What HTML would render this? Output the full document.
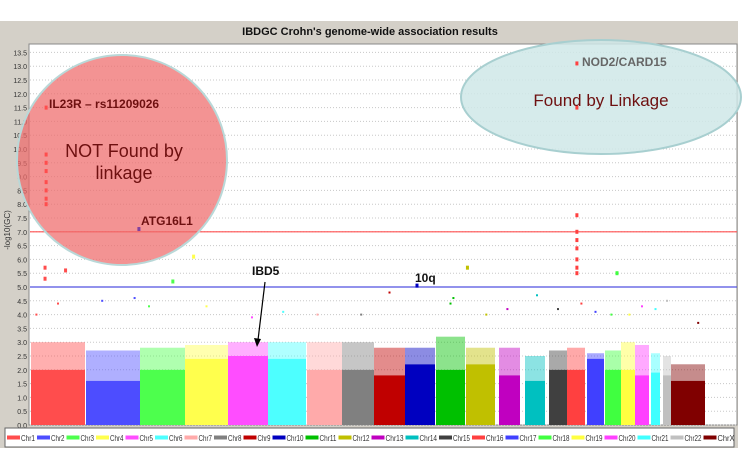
<!DOCTYPE html>
<html><head><meta charset="utf-8"><style>
body{margin:0;width:742px;height:469px;overflow:hidden;background:#fff;font-family:"Liberation Sans",sans-serif}
svg{display:block}
</style></head><body>
<svg id="c" width="742" height="469" xmlns="http://www.w3.org/2000/svg">
<rect x="0" y="21" width="738" height="427" fill="#d4d0c8"/>
<text x="370" y="35" text-anchor="middle" font-size="11" font-weight="bold" fill="#111">IBDGC Crohn's genome-wide association results</text>
<rect x="29" y="44" width="708" height="381" fill="#fff" stroke="#888"/>
<g id="grid"></g><g id="yt"></g>
<text transform="translate(10,230) rotate(-90)" text-anchor="middle" font-size="8" fill="#333">-log10(GC)</text>
<g id="bodies"></g><g id="lines"></g>
<circle cx="122" cy="160" r="105" fill="#ee6a6a" fill-opacity="0.72" stroke="#b9d8d8" stroke-width="2"/>
<ellipse cx="601" cy="97" rx="140" ry="57" fill="#cfe8e8" fill-opacity="0.85" stroke="#a8cfd0" stroke-width="2"/>
<g id="pts"></g>
<text x="49" y="108" font-size="12" font-weight="bold" fill="#6e1010">IL23R – rs11209026</text>
<text x="124" y="157" text-anchor="middle" font-size="18" fill="#6e1010">NOT Found by</text>
<text x="124" y="179" text-anchor="middle" font-size="18" fill="#6e1010">linkage</text>
<text x="141" y="225" font-size="12" font-weight="bold" fill="#6e1010">ATG16L1</text>
<text x="252" y="275" font-size="12" font-weight="bold" fill="#111">IBD5</text>
<line x1="265" y1="282" x2="258" y2="340" stroke="#000" stroke-width="1.2"/>
<polygon points="257,347 254,338 261,339" fill="#000"/>
<text x="415" y="282" font-size="12" font-weight="bold" fill="#111">10q</text>
<text x="582" y="66" font-size="12" font-weight="bold" fill="#666">NOD2/CARD15</text>
<text x="601" y="106" text-anchor="middle" font-size="17" fill="#6e1010">Found by Linkage</text>
<rect x="5" y="428" width="729" height="19" fill="#fff" stroke="#666"/>
<g id="leg"></g>
</svg>
<script>
const chrNames=["Chr1","Chr2","Chr3","Chr4","Chr5","Chr6","Chr7","Chr8","Chr9","Chr10","Chr11","Chr12","Chr13","Chr14","Chr15","Chr16","Chr17","Chr18","Chr19","Chr20","Chr21","Chr22","ChrX"];
const chrColors=["#ff4d4d","#4d4dff","#4dff4d","#ffff4d","#ff4dff","#4dffff","#ffaaaa","#808080","#c00000","#0000c0","#00c000","#c0c000","#c000c0","#00c0c0","#404040","#ff4040","#4040ff","#40ff40","#ffff40","#ff40ff","#40ffff","#c0c0c0","#800000"];
const chrStart=[0,55,109,154,197,237,276,311,343,374,405,435,468,494,518,536,556,574,590,604,620,632,640];
const chrEnd=[54,109,154,197,237,275,311,343,374,404,434,464,489,514,536,554,573,590,604,618,629,640,674];
const bodyLow=[2.0,1.6,2.0,2.4,2.5,2.4,2.0,2.0,1.8,2.2,2.0,2.2,1.8,1.6,2.0,2.0,2.4,2.0,2.0,1.8,1.9,1.8,1.6];
const bodyHigh=[3.0,2.7,2.8,2.9,3.0,3.0,3.0,3.0,2.8,2.8,3.2,2.8,2.8,2.5,2.7,2.8,2.6,2.7,3.0,2.9,2.6,2.5,2.2];
const peakChr=[0,0,0,0,0,0,0,0,0,0,0,1,2,3,9,11,15,15,15,15,15,15,15,15,15,17,0,0,1,1,2,3,4,5,6,7,8,10,10,11,12,13,14,15,16,17,18,19,20,21,22];
const peakPos=[0.28,0.28,0.28,0.28,0.28,0.28,0.28,0.28,0.26,0.26,0.64,0.98,0.73,0.2,0.4,0.05,0.55,0.55,0.55,0.55,0.55,0.55,0.55,0.55,0.55,0.75,0.1,0.5,0.3,0.9,0.2,0.5,0.6,0.4,0.3,0.6,0.5,0.5,0.6,0.7,0.4,0.6,0.5,0.8,0.5,0.4,0.6,0.5,0.5,0.5,0.8];
const peakVal=[11.5,9.8,9.5,9.2,8.8,8.5,8.2,8.0,5.7,5.3,5.6,7.1,5.2,6.1,5.05,5.7,13.1,11.5,7.6,7.0,6.7,6.4,6.0,5.7,5.5,5.5,4.0,4.4,4.5,4.6,4.3,4.3,3.9,4.1,4.0,4.0,4.8,4.4,4.6,4.0,4.2,4.7,4.2,4.4,4.1,4.0,4.0,4.3,4.2,4.5,3.7];
const yTicks=[0,0.5,1,1.5,2,2.5,3,3.5,4,4.5,5,5.5,6,6.5,7,7.5,8,8.5,9,9.5,10,10.5,11,11.5,12,12.5,13,13.5];
const legW=[30,29.5,29.5,29.5,29.5,29.5,29.5,29.5,29,33,33,33,34,33.5,33,33.5,33,33,33,33,33,33,33];
const ns="http://www.w3.org/2000/svg";
const y=v=>425-v*27.6, x=u=>31+u;
function mk(t,a,p){const e=document.createElementNS(ns,t);for(const k in a)e.setAttribute(k,a[k]);document.getElementById(p).appendChild(e);return e;}
yTicks.forEach(v=>{
 const g=mk("line",{x1:30,x2:736,y1:y(v),y2:y(v),stroke:"#c8c8c8","stroke-dasharray":"1,2"},"grid");
 
 
 const t=mk("text",{x:27,y:y(v)+3,"text-anchor":"end","font-size":"7",fill:"#333"},"yt");
 t.textContent=v.toFixed(1);
 
 
});
chrNames.forEach((n,i)=>{
 const x0=x(chrStart[i]),w=x(chrEnd[i])-x0;
 const r=mk("rect",{x:x0,y:y(bodyLow[i]),width:w,height:425-y(bodyLow[i]),fill:chrColors[i]},"bodies");
 
 
 const f=mk("rect",{x:x0,y:y(bodyHigh[i]),width:w,height:y(bodyLow[i])-y(bodyHigh[i]),fill:chrColors[i],"fill-opacity":"0.45"},"bodies");
 
 
});
peakChr.forEach((c,i)=>{
 const px=x(chrStart[c]+(chrEnd[c]-chrStart[c])*peakPos[i]);
 const big=peakVal[i]>=5;
 const p=mk("rect",{x:px-(big?1.5:1),y:y(peakVal[i])-(big?2:1),width:big?3:2,height:big?4:2,fill:i==11?"#8040a0":chrColors[c]},"pts");
 
 
});
const l1=mk("line",{x1:30,x2:737,y1:y(7),y2:y(7),stroke:"#ff5050","stroke-width":"1.2"},"lines");


const l2=mk("line",{x1:30,x2:737,y1:y(5),y2:y(5),stroke:"#5050e0","stroke-width":"1.2"},"lines");


let lx=7;
chrNames.forEach((n,i)=>{
 const s=mk("rect",{x:lx,y:435.5,width:13,height:4,fill:chrColors[i]},"leg");
 
 
 const t=mk("text",{x:lx+14,y:441,"font-size":"8",fill:"#333",textLength:legW[i]-16,lengthAdjust:"spacingAndGlyphs"},"leg");
 t.textContent=n;
 
 
 lx+=legW[i];
});
</script>
</body></html>
